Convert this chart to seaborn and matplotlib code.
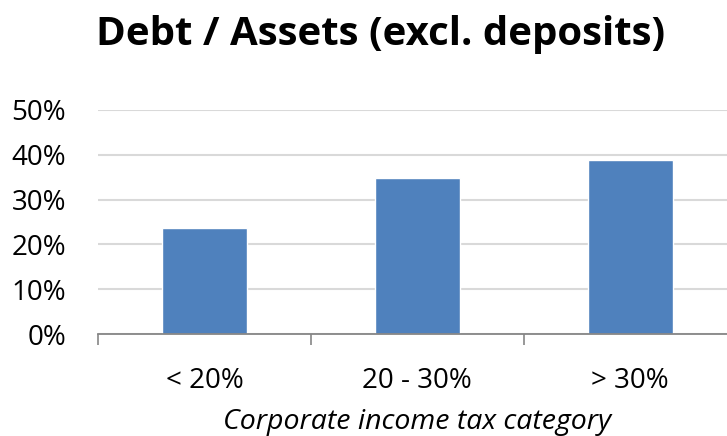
import matplotlib
matplotlib.use("Agg")
import matplotlib.pyplot as plt
import seaborn as sns
import pandas as pd
from matplotlib.ticker import PercentFormatter, FixedLocator

categories = ["< 20%", "20 - 30%", "> 30%"]
debt_to_assets = [0.237, 0.348, 0.389]
y_ticks = [0.0, 0.1, 0.2, 0.3, 0.4, 0.5]

title_text = "Debt / Assets (excl. deposits)"
x_label = "Corporate income tax category"

sns.set_theme(style="white")
plt.rcParams["font.family"] = ["Open Sans", "DejaVu Sans"]

df = pd.DataFrame({"category": categories, "value": debt_to_assets})

W, H = 727, 436
fig = plt.figure(figsize=(W / 100, H / 100), dpi=100)
ax = fig.add_axes([98 / W, (H - 334) / H, (736.5 - 98) / W, (334 - 110) / H])

sns.barplot(data=df, x="category", y="value", color="#4f81bd", width=0.4,
            saturation=1, ax=ax, zorder=3)

ax.set_xlim(-0.5, 2.5)
ax.set_ylim(0, 0.5)
ax.yaxis.set_major_locator(FixedLocator(y_ticks))
ax.yaxis.set_major_formatter(PercentFormatter(1.0, decimals=0))
ax.grid(axis="y", color="#d9d9d9", linewidth=1.5, zorder=0)
ax.grid(axis="x", visible=False)

for side in ["left", "right", "top"]:
    ax.spines[side].set_visible(False)
ax.spines["bottom"].set_color("#868686")
ax.spines["bottom"].set_linewidth(1.3)
ax.spines["bottom"].set_zorder(4)

# category boundary ticks below the axis
ax.set_xticks([-0.5, 0.5, 1.5, 2.5], minor=True)
ax.tick_params(axis="x", which="minor", bottom=True, length=8, width=1.2,
               color="#868686", direction="out")
ax.tick_params(axis="x", which="major", bottom=False, labelsize=20,
               labelcolor="black", pad=18)
ax.tick_params(axis="y", left=False, labelsize=20, labelcolor="black", pad=17)

ax.set_xlabel(x_label, fontsize=20.5, style="italic", color="black", labelpad=9)
ax.set_ylabel("")

fig.text(0.524, 0.922, title_text, ha="center", va="center",
         fontsize=29, fontweight="bold", color="black")

fig.savefig("out.png", dpi=100, facecolor="white")
